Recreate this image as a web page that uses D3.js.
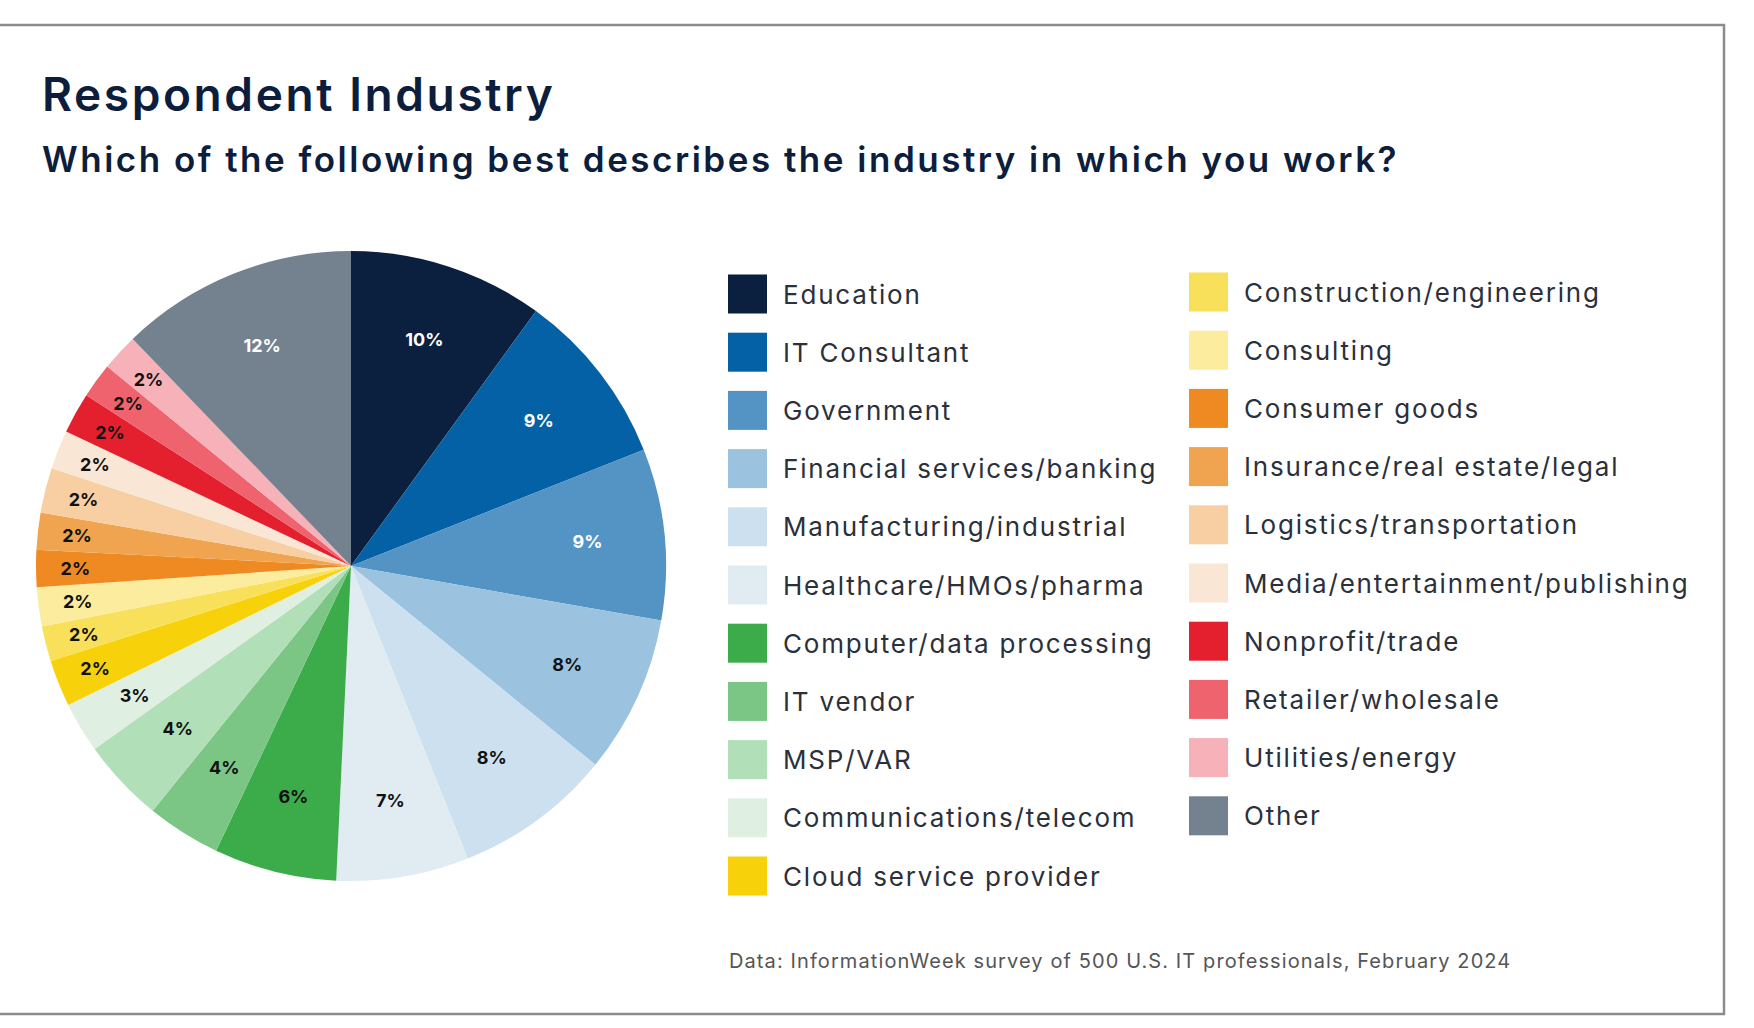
<!DOCTYPE html>
<html>
<head>
<meta charset="utf-8">
<script src="https://cdn.jsdelivr.net/npm/d3@7"></script>
<style>
  html, body { margin: 0; padding: 0; background: #ffffff; }
  svg { display: block; }
</style>
</head>
<body>
<svg id="chart" width="1754" height="1028"></svg>
<script>
// ---- data ----
const categories = [
  "Education", "IT Consultant", "Government", "Financial services/banking",
  "Manufacturing/industrial", "Healthcare/HMOs/pharma", "Computer/data processing",
  "IT vendor", "MSP/VAR", "Communications/telecom", "Cloud service provider",
  "Construction/engineering", "Consulting", "Consumer goods",
  "Insurance/real estate/legal", "Logistics/transportation",
  "Media/entertainment/publishing", "Nonprofit/trade", "Retailer/wholesale",
  "Utilities/energy", "Other"
];
const shares = [10.0, 9.0, 8.8, 8.1, 8.1, 6.8, 6.3, 3.8, 4.3, 2.6, 2.4,
                1.8, 2.0, 1.9, 1.9, 2.3, 2.0, 2.1, 1.8, 1.9, 12.2];
const labels = ["10%", "9%", "9%", "8%", "8%", "7%", "6%", "4%", "4%", "3%", "2%",
                "2%", "2%", "2%", "2%", "2%", "2%", "2%", "2%", "2%", "12%"];
const colors = [
  "#0b1f3f", "#0561a6", "#5394c4", "#9bc2de", "#cde0ef", "#e0ebf2", "#3cab4a",
  "#7bc585", "#b1dfb7", "#dff0e2", "#f7d20a", "#f8e05a", "#fbec9e", "#ef8a22",
  "#f1a44f", "#f7cfa3", "#fae6d5", "#e4202e", "#ee636d", "#f7b1b8", "#74828f"
];
const darkSlices = ["Education", "IT Consultant", "Government", "Other"];
const title = "Respondent Industry";
const subtitle = "Which of the following best describes the industry in which you work?";
const source = "Data: InformationWeek survey of 500 U.S. IT professionals, February 2024";

// ---- layout ----
const svg = d3.select("#chart");
const cx = 351, cy = 566, R = 315;
const fontFamily = "Inter, 'Open Sans', sans-serif";

// frame
svg.append("rect")
  .attr("x", -5).attr("y", 25)
  .attr("width", 1724 + 5).attr("height", 1014 - 25)
  .attr("fill", "#ffffff")
  .attr("stroke", "#8c8c8c").attr("stroke-width", 2.5);

// titles
svg.append("text")
  .attr("x", 42).attr("y", 111)
  .attr("font-family", fontFamily).attr("font-weight", 600)
  .attr("font-size", 46).attr("letter-spacing", 2.6).attr("fill", "#0d1e3d")
  .text(title);
svg.append("text")
  .attr("x", 42).attr("y", 172)
  .attr("font-family", fontFamily).attr("font-weight", 600)
  .attr("font-size", 35).attr("letter-spacing", 2.5).attr("fill", "#0d1e3d")
  .text(subtitle);

// pie
const data = categories.map((c, i) => ({ name: c, value: shares[i], label: labels[i], color: colors[i] }));
const pie = d3.pie().value(d => d.value).sort(null);
const arcs = pie(data);
const arc = d3.arc().innerRadius(0).outerRadius(R);

const g = svg.append("g").attr("transform", `translate(${cx},${cy})`);
g.selectAll("path.slice")
  .data(arcs)
  .join("path")
  .attr("class", "slice")
  .attr("d", arc)
  .attr("fill", d => d.data.color);

const labelRadius = v => v < 2.55 ? R * 0.875 : (v < 3.5 ? R * 0.80 : R * 0.755);
g.selectAll("text.pct")
  .data(arcs)
  .join("text")
  .attr("class", "pct")
  .attr("transform", d => {
    const a = (d.startAngle + d.endAngle) / 2;
    const r = labelRadius(d.data.value);
    return `translate(${Math.sin(a) * r},${-Math.cos(a) * r})`;
  })
  .attr("text-anchor", "middle")
  .attr("dominant-baseline", "central")
  .attr("font-family", fontFamily).attr("font-weight", 700)
  .attr("font-size", 18)
  .attr("fill", d => darkSlices.includes(d.data.name) ? "#ffffff" : "#111111")
  .text(d => d.data.label);

// legend
const leftCount = 11;
const rowH = 58.2;
const legend = svg.append("g");
const items = legend.selectAll("g.item")
  .data(data)
  .join("g")
  .attr("class", "item")
  .attr("transform", (d, i) => {
    const col = i < leftCount ? 0 : 1;
    const row = i < leftCount ? i : i - leftCount;
    const x = col === 0 ? 728 : 1189;
    const y = (col === 0 ? 294 : 292) + row * rowH;
    return `translate(${x},${y})`;
  });
items.append("rect")
  .attr("x", 0).attr("y", -19.5)
  .attr("width", 39).attr("height", 39)
  .attr("fill", d => d.color);
items.append("text")
  .attr("x", 55).attr("y", 0)
  .attr("dominant-baseline", "central")
  .attr("font-family", fontFamily).attr("font-weight", 400)
  .attr("font-size", 26).attr("letter-spacing", 1.8)
  .attr("fill", "#2b303b")
  .text(d => d.name);

// source
svg.append("text")
  .attr("x", 729).attr("y", 968)
  .attr("font-family", fontFamily).attr("font-weight", 400)
  .attr("font-size", 20).attr("letter-spacing", 1.1).attr("fill", "#555555")
  .text(source);
</script>
</body>
</html>
